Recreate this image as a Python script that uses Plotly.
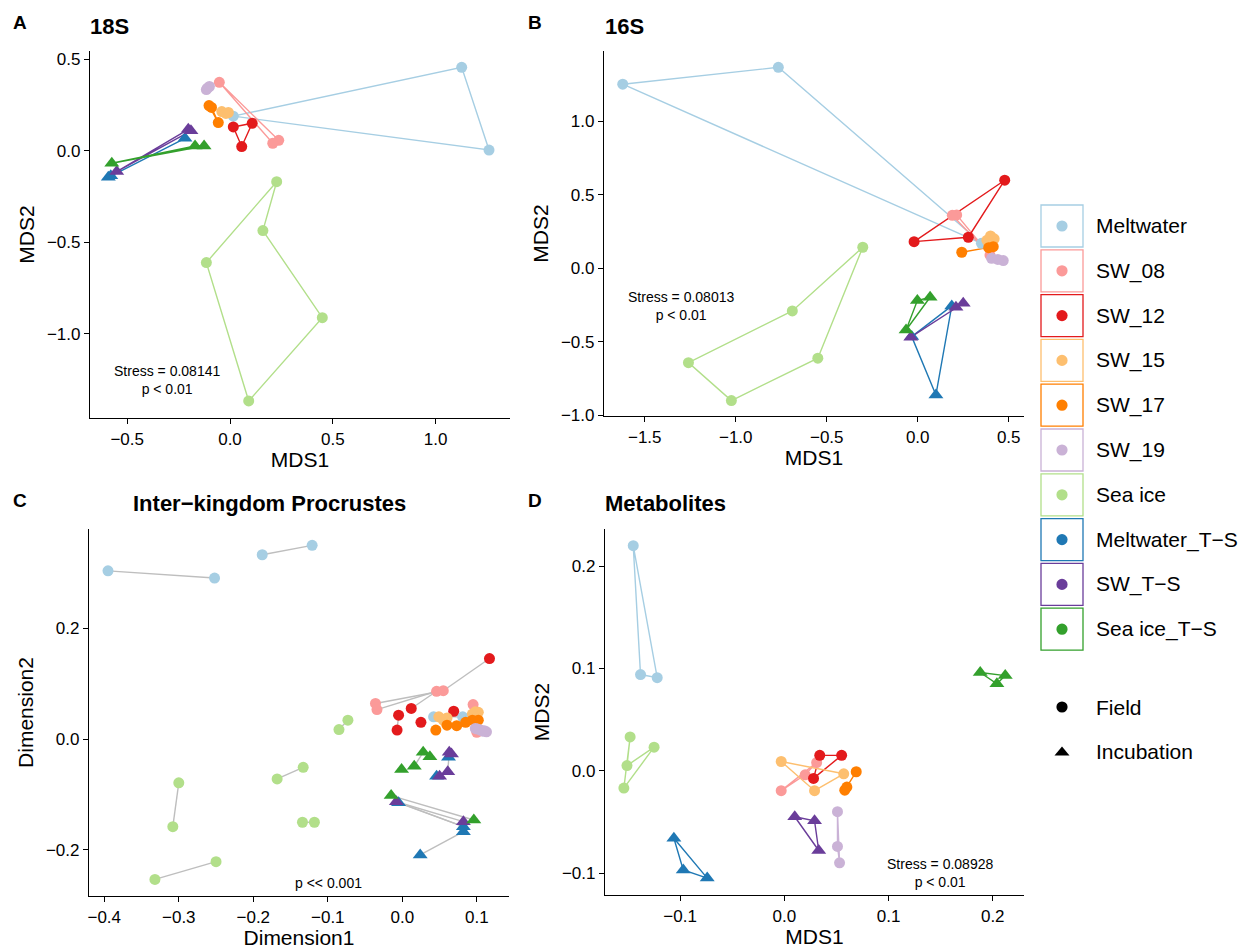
import plotly.graph_objects as go

W, H = 1253, 949
FONT = "Liberation Sans, Arial, sans-serif"

groups = ["Meltwater", "SW_08", "SW_12", "SW_15", "SW_17", "SW_19", "Sea ice",
          "Meltwater_T-S", "SW_T-S", "Sea ice_T-S"]
group_labels = ["Meltwater", "SW_08", "SW_12", "SW_15", "SW_17", "SW_19", "Sea ice",
                "Meltwater_T\u2212S", "SW_T\u2212S", "Sea ice_T\u2212S"]
group_colors = ["#A6CEE3", "#FB9A99", "#E31A1C", "#FDBF6F", "#FF7F00", "#CAB2D6",
                "#B2DF8A", "#1F78B4", "#6A3D9A", "#33A02C"]

# ---------------- Panel A: 18S NMDS ----------------
a_group = (["Meltwater"] * 3 + ["SW_08"] * 3 + ["SW_12"] * 3 + ["SW_15"] * 3 +
           ["SW_17"] * 3 + ["SW_19"] * 3 + ["Sea ice"] * 5 +
           ["Meltwater_T-S"] * 3 + ["SW_T-S"] * 3 + ["Sea ice_T-S"] * 3)
a_x = [0.016, 1.127, 1.260,
       -0.052, 0.237, 0.208,
       0.016, 0.108, 0.057,
       -0.040, -0.020, -0.008,
       -0.102, -0.090, -0.057,
       -0.110, -0.100, -0.115,
       0.227, 0.160, 0.449, 0.091, -0.115,
       -0.592, -0.219, -0.580,
       -0.203, -0.190, -0.551,
       -0.575, -0.170, -0.126]
a_y = [0.190, 0.457, 0.005,
       0.375, 0.058, 0.042,
       0.131, 0.151, 0.024,
       0.215, 0.205, 0.210,
       0.248, 0.238, 0.155,
       0.343, 0.352, 0.335,
       -0.168, -0.435, -0.911, -1.366, -0.610,
       -0.144, 0.069, -0.135,
       0.118, 0.110, -0.113,
       -0.067, 0.027, 0.027]
a_stress = "Stress = 0.08141<br>p < 0.01"

# ---------------- Panel B: 16S NMDS ----------------
b_group = a_group
b_x = [-1.621, -0.766, 0.350,
       0.214, 0.397, 0.190,
       0.478, -0.020, 0.278,
       0.400, 0.420, 0.380,
       0.242, 0.415, 0.390,
       0.406, 0.470, 0.440,
       -0.302, -0.689, -1.260, -1.024, -0.549,
       -0.033, 0.187, 0.100,
       -0.038, 0.210, 0.250,
       -0.064, -0.002, 0.068]
b_y = [1.252, 1.367, 0.170,
       0.363, 0.090, 0.360,
       0.599, 0.181, 0.211,
       0.220, 0.200, 0.190,
       0.109, 0.147, 0.140,
       0.068, 0.052, 0.060,
       0.143, -0.290, -0.642, -0.900, -0.612,
       -0.465, -0.256, -0.862,
       -0.469, -0.265, -0.238,
       -0.420, -0.220, -0.197]
b_stress = "Stress = 0.08013<br>p < 0.01"

# ---------------- Panel C: Procrustes ----------------
c_group = (["Meltwater"] * 6 + ["SW_08"] * 6 + ["SW_12"] * 6 + ["SW_15"] * 6 +
           ["SW_17"] * 6 + ["SW_19"] * 6 + ["Sea ice"] * 10 +
           ["Meltwater_T-S"] * 6 + ["SW_T-S"] * 6 + ["Sea ice_T-S"] * 6)
c_x = [-0.395, -0.252, -0.188, -0.121, 0.042, 0.081,
       0.046, 0.055, -0.036, -0.034, 0.095, 0.100,
       0.117, 0.012, -0.005, -0.007, 0.025, 0.069,
       0.049, 0.055, 0.098, 0.102, 0.094, 0.060,
       0.045, 0.060, 0.073, 0.094, 0.102, 0.085,
       0.098, 0.105, 0.113, 0.108, 0.101, 0.110,
       -0.073, -0.085, -0.133, -0.168, -0.300, -0.308, -0.134, -0.118, -0.250, -0.332,
       0.062, 0.046, -0.005, 0.082, 0.024, 0.082,
       0.063, 0.061, 0.050, -0.008, 0.082, 0.066,
       0.028, 0.037, 0.016, -0.001, -0.015, 0.096]
c_y = [0.303, 0.290, 0.332, 0.349, 0.040, 0.040,
       0.086, 0.087, 0.064, 0.053, 0.062, 0.012,
       0.145, 0.055, 0.043, 0.016, 0.030, 0.050,
       0.040, 0.034, 0.049, 0.048, 0.045, 0.038,
       0.016, 0.025, 0.024, 0.034, 0.034, 0.030,
       0.019, 0.016, 0.013, 0.014, 0.018, 0.015,
       0.034, 0.017, -0.051, -0.072, -0.079, -0.158, -0.150, -0.150, -0.221, -0.253,
       -0.033, -0.067, -0.115, -0.167, -0.209, -0.158,
       -0.024, -0.059, -0.067, -0.113, -0.149, -0.027,
       -0.024, -0.032, -0.049, -0.055, -0.102, -0.146]
# index pairs joined by grey procrustes segments
c_pairs = [(0, 1), (2, 3), (4, 5),
           (12, 7), (13, 6), (8, 7), (9, 6), (14, 15),
           (36, 37), (38, 39), (40, 41), (42, 43), (44, 45),
           (50, 49), (48, 51),
           (53, 52), (55, 56), (55, 51),
           (60, 58), (62, 63)]
c_label = "p << 0.001"

# ---------------- Panel D: Metabolites ----------------
d_group = (["Meltwater"] * 3 + ["SW_08"] * 3 + ["SW_12"] * 3 + ["SW_15"] * 3 +
           ["SW_17"] * 3 + ["SW_19"] * 3 + ["Sea ice"] * 4 +
           ["Meltwater_T-S"] * 3 + ["SW_T-S"] * 3 + ["Sea ice_T-S"] * 3)
d_x = [-0.145, -0.138, -0.122,
       -0.003, 0.031, 0.020,
       0.034, 0.055, 0.028,
       -0.003, 0.057, 0.029,
       0.069, 0.058, 0.060,
       0.051, 0.051, 0.053,
       -0.148, -0.151, -0.125, -0.154,
       -0.106, -0.097, -0.074,
       0.010, 0.033, 0.029,
       0.188, 0.212, 0.204]
d_y = [0.220, 0.094, 0.091,
       -0.0195, 0.008, -0.004,
       0.015, 0.015, -0.0075,
       0.009, -0.003, -0.0195,
       -0.001, -0.019, -0.016,
       -0.040, -0.074, -0.090,
       0.033, 0.005, 0.023, -0.017,
       -0.066, -0.097, -0.105,
       -0.045, -0.078, -0.049,
       0.096, 0.093, 0.085]
d_stress = "Stress = 0.08928<br>p < 0.01"

# ---------------- Axis setup ----------------
a_xticks = [-0.5, 0.0, 0.5, 1.0]
a_yticks = [-1.0, -0.5, 0.0, 0.5]
b_xticks = [-1.5, -1.0, -0.5, 0.0, 0.5]
b_yticks = [-1.0, -0.5, 0.0, 0.5, 1.0]
c_xticks = [-0.4, -0.3, -0.2, -0.1, 0.0, 0.1]
c_yticks = [-0.2, 0.0, 0.2]
d_xticks = [-0.1, 0.0, 0.1, 0.2]
d_yticks = [-0.1, 0.0, 0.1, 0.2]


def pxx(p):
    return p / W


def pxy(p):
    return 1 - p / H


fig = go.Figure()


def color_of(g):
    return group_colors[groups.index(g)]


def symbol_of(g):
    return "triangle-up" if g.endswith("T-S") else "circle"


def add_panel(xs, ys, gs, axis_suffix, polygons=True, pairs=None):
    xa = "x" + axis_suffix
    ya = "y" + axis_suffix
    if polygons:
        for g in groups:
            idx = [i for i, gg in enumerate(gs) if gg == g]
            if not idx:
                continue
            px_ = [xs[i] for i in idx] + [xs[idx[0]]]
            py_ = [ys[i] for i in idx] + [ys[idx[0]]]
            fig.add_trace(go.Scatter(x=px_, y=py_, mode="lines", xaxis=xa, yaxis=ya,
                                     line=dict(color=color_of(g), width=1.4),
                                     showlegend=False, hoverinfo="skip"))
    if pairs:
        sx, sy = [], []
        for i, j in pairs:
            sx += [xs[i], xs[j], None]
            sy += [ys[i], ys[j], None]
        fig.add_trace(go.Scatter(x=sx, y=sy, mode="lines", xaxis=xa, yaxis=ya,
                                 line=dict(color="#BEBEBE", width=1.4),
                                 showlegend=False, hoverinfo="skip"))
    for g in groups:
        idx = [i for i, gg in enumerate(gs) if gg == g]
        if not idx:
            continue
        sym = symbol_of(g)
        fig.add_trace(go.Scatter(x=[xs[i] for i in idx], y=[ys[i] for i in idx],
                                 mode="markers", xaxis=xa, yaxis=ya, name=g,
                                 marker=dict(color=color_of(g), symbol=sym,
                                             size=13 if sym != "circle" else 11,
                                             line=dict(width=0)),
                                 showlegend=False))


add_panel(a_x, a_y, a_group, "")
add_panel(b_x, b_y, b_group, "2")
add_panel(c_x, c_y, c_group, "3", polygons=False, pairs=c_pairs)
add_panel(d_x, d_y, d_group, "4")


def axis(domain_px, rng, ticks, title, anchor, horizontal):
    if horizontal:
        dom = [pxx(domain_px[0]), pxx(domain_px[1])]
    else:
        dom = [pxy(domain_px[1]), pxy(domain_px[0])]
    return dict(domain=dom, range=rng, tickvals=ticks, tickformat=".1f",
                showline=True, linecolor="black", linewidth=1.2, mirror=False,
                ticks="outside", ticklen=5, tickwidth=1.1, tickcolor="black",
                showgrid=False, zeroline=False, anchor=anchor,
                tickfont=dict(family=FONT, size=17, color="black"),
                title=dict(text=title, font=dict(family=FONT, size=21, color="black"),
                           standoff=4 if horizontal else 6),
                automargin=False, fixedrange=True)


fig.update_layout(
    width=W, height=H, autosize=False,
    margin=dict(l=0, r=0, t=0, b=0),
    paper_bgcolor="white", plot_bgcolor="white",
    showlegend=False,
    font=dict(family=FONT, color="black"),
    xaxis=axis([90, 510], [-0.681, 1.362], a_xticks, "MDS1", "y", True),
    yaxis=axis([51, 418], [-1.459, 0.546], a_yticks, "MDS2", "x", False),
    xaxis2=axis([604, 1024], [-1.724, 0.584], b_xticks, "MDS1", "y2", True),
    yaxis2=axis([51, 416], [-1.005, 1.478], b_yticks, "MDS2", "x2", False),
    xaxis3=axis([89, 509], [-0.4205, 0.1432], c_xticks, "Dimension1", "y3", True),
    yaxis3=axis([529, 896], [-0.2829, 0.3784], c_yticks, "Dimension2", "x3", False),
    xaxis4=axis([605, 1024], [-0.1721, 0.2300], d_xticks, "MDS1", "y4", True),
    yaxis4=axis([529, 895], [-0.1215, 0.2363], d_yticks, "MDS2", "x4", False),
)

ann = []
# statistics text
ann.append(dict(x=-0.306, y=-1.254, xref="x", yref="y", text=a_stress, showarrow=False,
                font=dict(family=FONT, size=14, color="black"), align="center"))
ann.append(dict(x=-1.30, y=-0.255, xref="x2", yref="y2", text=b_stress, showarrow=False,
                font=dict(family=FONT, size=14, color="black"), align="center"))
ann.append(dict(x=-0.099, y=-0.26, xref="x3", yref="y3", text=c_label, showarrow=False,
                font=dict(family=FONT, size=14, color="black"), align="center"))
ann.append(dict(x=0.149, y=-0.0998, xref="x4", yref="y4", text=d_stress, showarrow=False,
                font=dict(family=FONT, size=14, color="black"), align="center"))

# panel tags and titles
for tag, tx, ty in [("A", 20, 22), ("B", 535, 22), ("C", 20, 500), ("D", 535, 500)]:
    ann.append(dict(x=pxx(tx), y=pxy(ty), xref="paper", yref="paper", text="<b>%s</b>" % tag,
                    showarrow=False, xanchor="center", yanchor="middle",
                    font=dict(family=FONT, size=19, color="black")))
for title, tx, ty in [("18S", 88, 27), ("16S", 603, 27),
                      ("Inter\u2212kingdom Procrustes", 131, 504), ("Metabolites", 603, 504)]:
    ann.append(dict(x=pxx(tx), y=pxy(ty), xref="paper", yref="paper", text="<b>%s</b>" % title,
                    showarrow=False, xanchor="left", yanchor="middle",
                    font=dict(family=FONT, size=22, color="black")))

# legend (drawn as keys with coloured frames)
shapes = []
leg_y0, leg_step = 226.0, 44.8
for k, (lab, col) in enumerate(zip(group_labels, group_colors)):
    cy = leg_y0 + k * leg_step
    shapes.append(dict(type="rect", xref="paper", yref="paper",
                       x0=pxx(1041), x1=pxx(1083), y0=pxy(cy + 21), y1=pxy(cy - 21),
                       line=dict(color=col, width=1.3), fillcolor="white"))
    shapes.append(dict(type="circle", xref="paper", yref="paper",
                       x0=pxx(1062 - 5.6), x1=pxx(1062 + 5.6),
                       y0=pxy(cy + 5.6), y1=pxy(cy - 5.6),
                       line=dict(width=0), fillcolor=col))
    ann.append(dict(x=pxx(1094), y=pxy(cy), xref="paper", yref="paper", text=lab,
                    showarrow=False, xanchor="left", yanchor="middle",
                    font=dict(family=FONT, size=21, color="black")))

shapes.append(dict(type="circle", xref="paper", yref="paper",
                   x0=pxx(1062 - 5.6), x1=pxx(1062 + 5.6), y0=pxy(707 + 5.6), y1=pxy(707 - 5.6),
                   line=dict(width=0), fillcolor="black"))
tri = "M %f %f L %f %f L %f %f Z" % (pxx(1054.5), pxy(755.5), pxx(1069.5), pxy(755.5),
                                     pxx(1062), pxy(746.5))
shapes.append(dict(type="path", xref="paper", yref="paper", path=tri,
                   line=dict(width=0), fillcolor="black"))
for lab, cy in [("Field", 707), ("Incubation", 751)]:
    ann.append(dict(x=pxx(1094), y=pxy(cy), xref="paper", yref="paper", text=lab,
                    showarrow=False, xanchor="left", yanchor="middle",
                    font=dict(family=FONT, size=21, color="black")))

fig.update_layout(annotations=ann, shapes=shapes)

fig.write_html("out.html", config={"displayModeBar": False},
               post_script="document.body.style.margin='0';")
